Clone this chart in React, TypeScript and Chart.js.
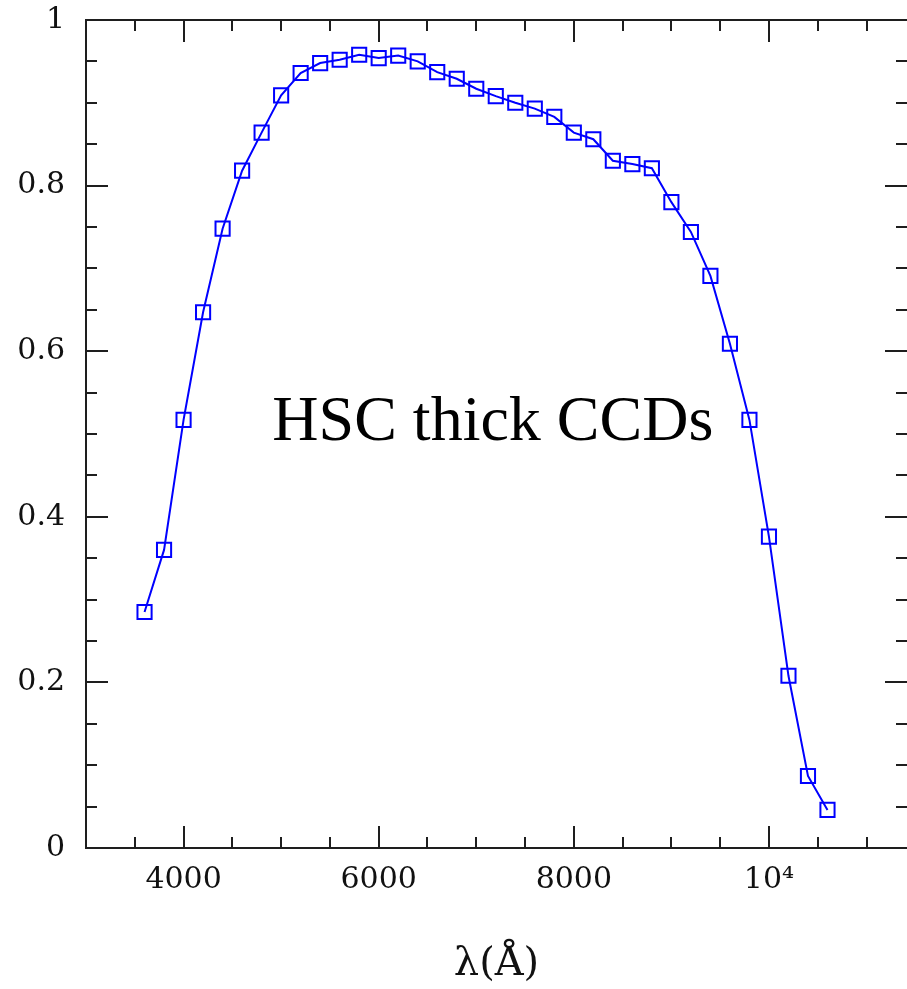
import React, { useEffect, useRef } from 'react';
import { Chart, registerables } from 'chart.js';

Chart.register(...registerables);

// ---- data ----
const wavelengths = [
  3600, 3800, 4000, 4200, 4400, 4600, 4800, 5000, 5200, 5400, 5600, 5800,
  6000, 6200, 6400, 6600, 6800, 7000, 7200, 7400, 7600, 7800, 8000, 8200,
  8400, 8600, 8800, 9000, 9200, 9400, 9600, 9800, 10000, 10200, 10400, 10600,
];
const efficiency = [
  0.285, 0.36, 0.517, 0.647, 0.748, 0.818, 0.864, 0.909, 0.936, 0.948, 0.952, 0.958,
  0.954, 0.957, 0.95, 0.937, 0.929, 0.917, 0.908, 0.9, 0.893, 0.883, 0.864, 0.856,
  0.83, 0.826, 0.821, 0.78, 0.744, 0.691, 0.609, 0.517, 0.376, 0.208, 0.087, 0.046,
];

const xLabeledTicks = [4000, 6000, 8000, 10000];
const xTickLabels = ['4000', '6000', '8000', '10\u2074'];
const yLabeledTicks = [0, 0.2, 0.4, 0.6, 0.8, 1];
const yTickLabels = ['0', '0.2', '0.4', '0.6', '0.8', '1'];
const xMinorStep = 500;
const yMinorStep = 0.05;
const xTitle = 'λ(Å)';
const annotationText = 'HSC thick CCDs';
const annotationAt = { x: 7170, y: 0.493 };

const X_MIN = 3000;
const X_MAX = 11415;

const AXIS_COLOR = '#1e1e1e';
const LINE_COLOR = '#0000ff';

const round = (v: number, d: number) => Math.round(v * d) / d;

const framePlugin = {
  id: 'framePlugin',
  beforeDatasetsDraw(chart: any) {
    const { ctx, chartArea } = chart;
    const { left, right, top, bottom } = chartArea;
    const xs = chart.scales.x;
    const ys = chart.scales.y;
    ctx.save();
    ctx.strokeStyle = AXIS_COLOR;
    ctx.lineWidth = 2;
    ctx.lineCap = 'butt';
    ctx.beginPath();
    ctx.moveTo(left, top - 1);
    ctx.lineTo(left, bottom + 1);
    ctx.moveTo(left - 1, top);
    ctx.lineTo(right + 2, top);
    ctx.moveTo(left - 1, bottom);
    ctx.lineTo(right + 2, bottom);
    ctx.stroke();
    ctx.beginPath();
    for (let v = X_MIN + xMinorStep; v < X_MAX; v += xMinorStep) {
      const px = Math.round(xs.getPixelForValue(v));
      const len = xLabeledTicks.includes(v) ? 22 : 11;
      ctx.moveTo(px, bottom);
      ctx.lineTo(px, bottom - len);
      ctx.moveTo(px, top);
      ctx.lineTo(px, top + len);
    }
    for (let i = 1; i < 20; i++) {
      const v = round(i * yMinorStep, 1000);
      const py = Math.round(ys.getPixelForValue(v));
      const len = yLabeledTicks.includes(v) ? 22 : 11;
      ctx.moveTo(left, py);
      ctx.lineTo(left + len, py);
      ctx.moveTo(right, py);
      ctx.lineTo(right - len, py);
    }
    ctx.stroke();
    ctx.restore();
  },
  afterDatasetsDraw(chart: any) {
    const { ctx } = chart;
    const xs = chart.scales.x;
    const ys = chart.scales.y;
    ctx.save();
    ctx.fillStyle = '#000';
    ctx.font = '64px "Liberation Serif", "Times New Roman", serif';
    ctx.textAlign = 'center';
    ctx.textBaseline = 'alphabetic';
    ctx.fillText(annotationText, xs.getPixelForValue(annotationAt.x), ys.getPixelForValue(annotationAt.y));
    ctx.restore();
  },
};

export default function App() {
  const canvasRef = useRef<HTMLCanvasElement | null>(null);

  useEffect(() => {
    document.body.style.margin = '0';
    const canvas = canvasRef.current;
    if (!canvas) return;
    const tickFont = { family: '"DejaVu Serif", serif', size: 30 };
    const chart = new Chart(canvas, {
      type: 'line',
      data: {
        datasets: [
          {
            data: wavelengths.map((w, i) => ({ x: w, y: efficiency[i] })),
            borderColor: LINE_COLOR,
            borderWidth: 2,
            backgroundColor: 'rgba(0,0,0,0)',
            pointStyle: 'rect',
            pointRadius: 10,
            pointBorderWidth: 2,
            pointBorderColor: LINE_COLOR,
            pointBackgroundColor: 'rgba(0,0,0,0)',
            tension: 0,
            fill: false,
          },
        ],
      },
      options: {
        responsive: false,
        animation: false,
        events: [],
        layout: { autoPadding: false, padding: { top: 20, left: 0, right: 0, bottom: 0 } },
        plugins: {
          legend: { display: false },
          tooltip: { enabled: false },
        },
        scales: {
          x: {
            type: 'linear',
            min: X_MIN,
            max: X_MAX,
            border: { display: false },
            grid: { display: false, drawTicks: false },
            afterBuildTicks: (scale: any) => {
              const t: any[] = [];
              for (let v = X_MIN; v <= X_MAX; v += xMinorStep) t.push({ value: v });
              scale.ticks = t;
            },
            afterFit: (scale: any) => {
              scale.height = 141;
              scale.paddingLeft = 0;
              scale.paddingRight = 0;
            },
            ticks: {
              autoSkip: false,
              maxRotation: 0,
              minRotation: 0,
              padding: 14,
              color: '#111',
              font: tickFont,
              callback: (value: any) => {
                const i = xLabeledTicks.indexOf(Number(value));
                return i >= 0 ? xTickLabels[i] : '';
              },
            },
            title: {
              display: true,
              text: xTitle,
              color: '#111',
              font: { family: '"DejaVu Serif", serif', size: 40 },
              padding: { top: 25, bottom: 0 },
            },
          },
          y: {
            type: 'linear',
            min: 0,
            max: 1,
            border: { display: false },
            grid: { display: false, drawTicks: false },
            afterBuildTicks: (scale: any) => {
              scale.ticks = yLabeledTicks.map((v) => ({ value: v }));
            },
            afterFit: (scale: any) => {
              scale.width = 86;
              scale.paddingTop = 0;
              scale.paddingBottom = 0;
            },
            ticks: {
              autoSkip: false,
              padding: 21,
              color: '#111',
              font: tickFont,
              callback: (value: any) => {
                const i = yLabeledTicks.indexOf(round(Number(value), 1000));
                return i >= 0 ? yTickLabels[i] : '';
              },
            },
          },
        },
      },
      plugins: [framePlugin],
    } as any);
    return () => chart.destroy();
  }, []);

  return (
    <div style={{ position: 'fixed', left: 0, top: 0, width: 907, height: 989, background: '#fff' }}>
      <canvas ref={canvasRef} width={907} height={989} style={{ display: 'block' }} />
    </div>
  );
}
